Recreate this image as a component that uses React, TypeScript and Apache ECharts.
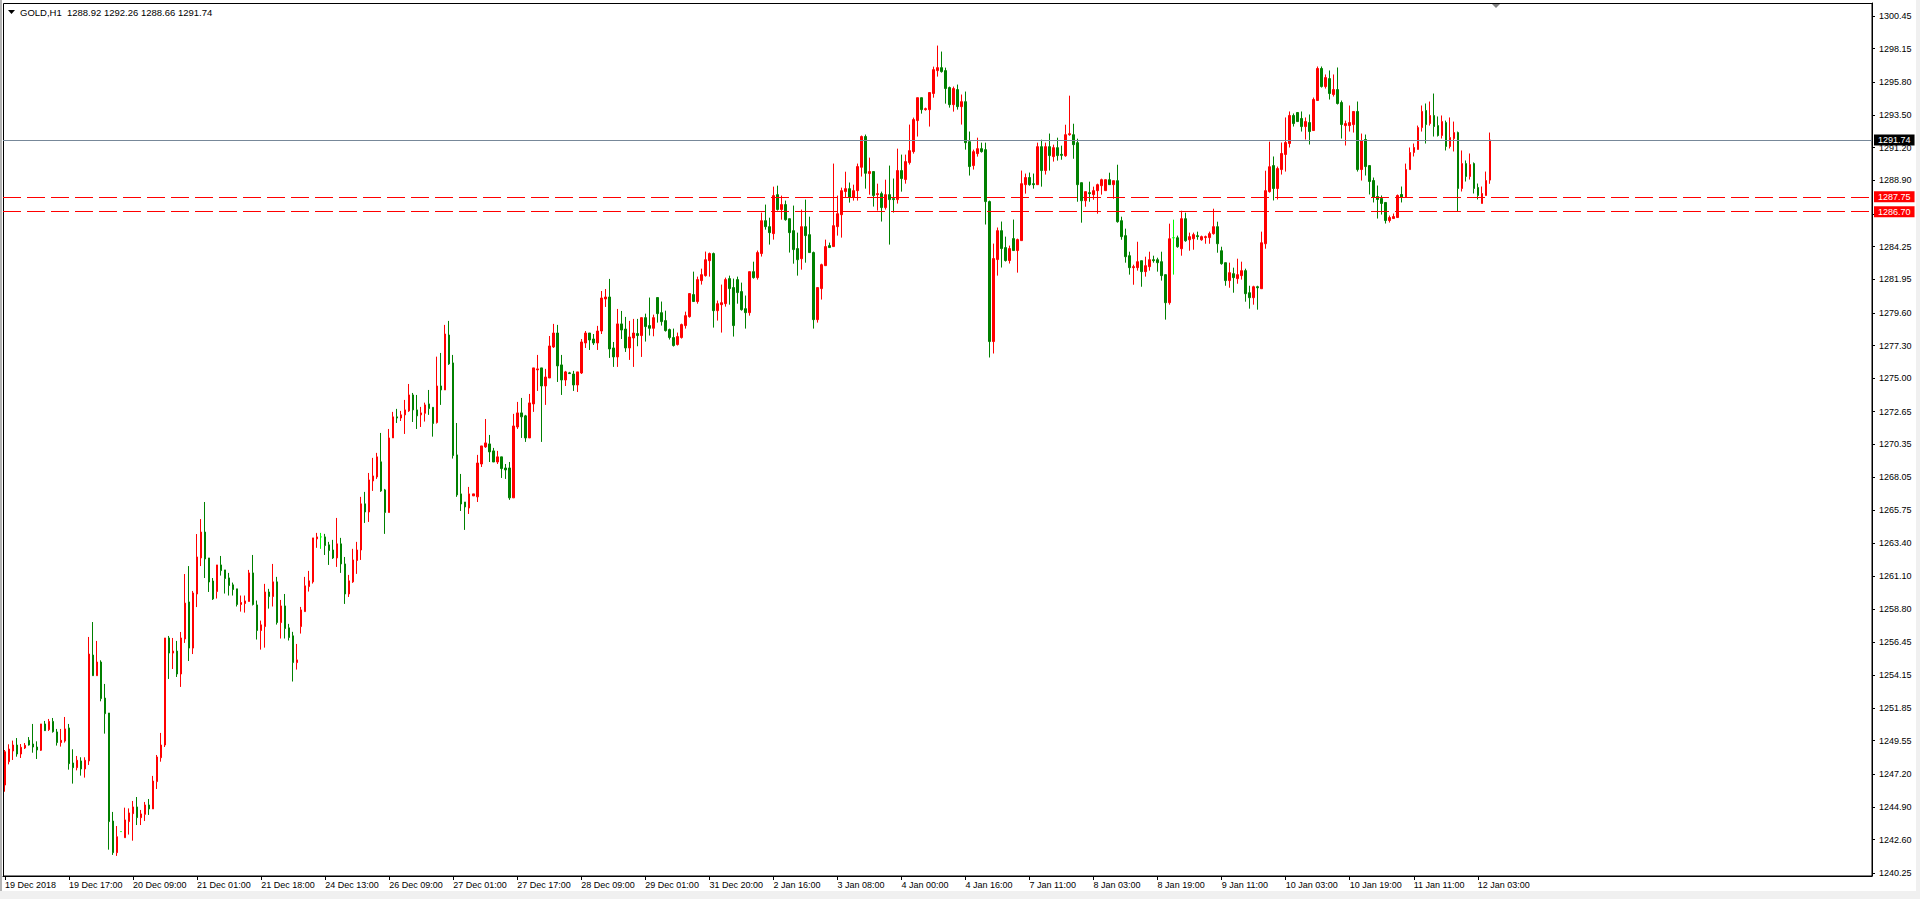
import { useEffect, useRef } from "react";
import * as echarts from "echarts";

const symbolName = "GOLD,H1";
const FONT = "'Liberation Sans', Arial, sans-serif";

// H1 bars as [open, close, low, high], oldest first
const bars: number[][] = [
  [1246.43, 1248.77, 1245.96, 1248.89], [1248.07, 1248.96, 1247.88, 1249.29], [1248.82, 1249.24, 1248.19, 1249.55], [1249.24, 1248.61, 1248.42, 1249.73],
  [1248.61, 1249.08, 1248.33, 1249.31], [1249.03, 1249.22, 1248.96, 1249.38], [1249.57, 1249.24, 1249.20, 1249.80], [1249.31, 1249.10, 1248.70, 1250.72],
  [1249.10, 1248.89, 1248.26, 1249.50], [1248.87, 1250.72, 1248.82, 1250.72], [1250.72, 1250.25, 1250.23, 1250.93], [1250.32, 1250.90, 1250.23, 1251.07],
  [1250.90, 1250.18, 1250.11, 1251.14], [1250.16, 1249.41, 1249.20, 1250.37], [1249.41, 1249.57, 1249.13, 1250.37], [1249.52, 1250.37, 1249.41, 1251.21],
  [1250.44, 1247.93, 1247.51, 1250.72], [1247.98, 1247.65, 1246.53, 1248.94], [1247.65, 1248.17, 1247.46, 1248.47], [1248.12, 1247.56, 1247.09, 1248.38],
  [1247.56, 1248.17, 1246.95, 1248.38], [1248.12, 1255.63, 1247.84, 1256.83], [1255.56, 1254.11, 1254.11, 1257.88], [1254.11, 1255.07, 1254.11, 1256.55],
  [1255.07, 1252.50, 1252.31, 1255.19], [1252.54, 1251.44, 1250.04, 1253.53], [1251.49, 1243.86, 1241.89, 1251.49], [1243.90, 1241.68, 1241.52, 1244.54],
  [1241.68, 1242.80, 1241.45, 1243.55], [1243.16, 1243.16, 1243.16, 1243.16], [1242.73, 1243.98, 1242.73, 1244.84], [1243.86, 1244.47, 1242.95, 1244.79],
  [1244.42, 1244.89, 1242.52, 1245.31], [1244.89, 1244.14, 1243.62, 1245.59], [1244.14, 1244.40, 1243.62, 1244.68], [1244.37, 1245.03, 1243.90, 1245.24],
  [1245.03, 1244.75, 1244.33, 1245.45], [1244.75, 1246.71, 1244.75, 1247.07], [1246.67, 1248.40, 1246.15, 1248.54], [1248.35, 1249.24, 1248.07, 1250.09],
  [1249.24, 1256.76, 1249.10, 1256.76], [1256.76, 1255.70, 1253.88, 1256.90], [1255.70, 1255.84, 1254.58, 1256.76], [1255.84, 1254.23, 1254.02, 1256.55],
  [1254.23, 1256.76, 1253.32, 1257.18], [1256.69, 1259.21, 1256.41, 1261.25], [1259.29, 1256.05, 1255.14, 1261.81], [1256.05, 1259.92, 1255.63, 1260.06],
  [1259.85, 1262.45, 1258.93, 1264.06], [1262.38, 1264.20, 1261.81, 1265.11], [1264.20, 1262.31, 1260.97, 1266.31], [1262.38, 1260.69, 1259.99, 1262.38],
  [1260.76, 1259.50, 1259.43, 1260.97], [1260.02, 1261.89, 1259.53, 1261.89], [1261.89, 1261.49, 1261.14, 1262.52], [1261.54, 1260.93, 1259.88, 1261.54],
  [1260.98, 1260.44, 1259.74, 1261.33], [1260.49, 1260.16, 1259.74, 1260.65], [1260.21, 1259.11, 1258.97, 1260.21], [1259.11, 1259.25, 1258.61, 1259.74],
  [1259.18, 1259.36, 1258.54, 1259.74], [1259.32, 1261.33, 1259.32, 1261.54], [1261.33, 1259.11, 1259.04, 1262.59], [1259.08, 1257.28, 1256.65, 1259.39],
  [1257.28, 1257.68, 1255.94, 1257.98], [1257.56, 1259.99, 1256.08, 1260.56], [1259.99, 1259.67, 1258.82, 1260.21], [1259.67, 1260.70, 1258.97, 1261.96],
  [1260.70, 1257.84, 1257.70, 1261.05], [1257.84, 1259.01, 1256.72, 1259.43], [1259.01, 1257.42, 1256.72, 1259.85], [1257.47, 1256.79, 1256.58, 1257.75],
  [1256.91, 1255.03, 1253.70, 1257.19], [1255.03, 1255.22, 1254.54, 1256.34], [1257.56, 1258.73, 1257.07, 1258.94], [1258.61, 1260.42, 1258.61, 1261.05],
  [1260.37, 1260.77, 1260.02, 1261.47], [1260.70, 1263.79, 1260.58, 1263.79], [1263.72, 1263.86, 1263.09, 1264.14], [1263.86, 1263.86, 1263.02, 1264.14],
  [1263.86, 1263.25, 1262.59, 1264.07], [1263.30, 1262.90, 1261.89, 1263.51], [1262.94, 1262.38, 1262.31, 1263.65], [1262.38, 1263.37, 1261.75, 1265.19],
  [1263.37, 1261.96, 1261.33, 1263.79], [1261.96, 1259.85, 1259.15, 1262.45], [1259.85, 1260.77, 1259.64, 1261.19], [1260.70, 1262.24, 1260.63, 1263.02],
  [1262.20, 1262.94, 1261.26, 1263.51], [1262.94, 1266.18, 1262.24, 1266.67], [1266.18, 1265.61, 1264.84, 1267.02], [1265.61, 1267.86, 1264.91, 1268.35],
  [1267.79, 1268.14, 1267.09, 1269.41], [1268.07, 1269.48, 1267.93, 1269.76], [1269.13, 1267.09, 1267.02, 1271.16], [1267.16, 1265.57, 1264.07, 1267.23],
  [1265.57, 1270.81, 1265.57, 1271.44], [1270.81, 1272.29, 1270.81, 1272.64], [1272.29, 1272.21, 1271.86, 1272.85], [1272.21, 1272.43, 1272.00, 1272.71],
  [1272.43, 1272.78, 1271.09, 1273.48], [1272.71, 1273.83, 1272.64, 1274.60], [1273.83, 1272.78, 1271.93, 1273.97], [1272.78, 1272.36, 1271.44, 1273.83],
  [1272.43, 1272.57, 1271.58, 1272.99], [1272.54, 1273.13, 1271.96, 1273.29], [1273.20, 1272.87, 1272.43, 1274.18], [1272.96, 1271.82, 1270.90, 1272.96],
  [1271.89, 1274.46, 1271.82, 1276.52], [1274.46, 1274.18, 1273.13, 1276.78], [1274.18, 1278.11, 1274.18, 1278.75], [1278.04, 1276.01, 1275.94, 1279.03],
  [1276.08, 1269.57, 1269.36, 1276.64], [1269.62, 1266.81, 1266.67, 1271.86], [1266.88, 1266.17, 1265.68, 1268.28], [1266.31, 1265.96, 1264.35, 1266.31],
  [1265.89, 1266.88, 1265.47, 1267.37], [1266.74, 1266.88, 1266.74, 1266.88], [1266.67, 1269.05, 1266.31, 1269.62], [1268.98, 1270.25, 1268.77, 1270.25],
  [1270.18, 1270.46, 1270.11, 1272.14], [1270.39, 1269.83, 1269.12, 1271.02], [1269.90, 1269.12, 1269.12, 1270.11], [1269.12, 1269.48, 1268.98, 1269.90],
  [1269.48, 1268.66, 1268.00, 1269.48], [1268.70, 1268.56, 1267.93, 1268.98], [1268.70, 1266.60, 1266.46, 1269.12], [1266.60, 1271.65, 1266.60, 1272.50],
  [1271.58, 1272.57, 1271.44, 1273.34], [1272.57, 1272.29, 1270.81, 1273.62], [1272.36, 1270.81, 1270.53, 1272.43], [1270.81, 1273.27, 1270.81, 1273.90],
  [1273.20, 1275.73, 1272.64, 1275.73], [1275.59, 1275.66, 1274.11, 1276.64], [1275.73, 1274.46, 1270.53, 1275.73], [1274.46, 1275.09, 1273.13, 1275.66],
  [1275.02, 1277.27, 1275.02, 1277.97], [1277.20, 1278.18, 1277.13, 1278.82], [1278.18, 1275.87, 1274.74, 1278.75], [1275.94, 1274.88, 1273.83, 1276.64],
  [1274.88, 1275.45, 1274.46, 1275.52], [1275.38, 1275.33, 1275.30, 1275.45], [1275.30, 1274.53, 1274.11, 1275.52], [1274.53, 1275.45, 1274.04, 1275.45],
  [1275.37, 1277.55, 1275.30, 1277.76], [1277.48, 1278.18, 1277.13, 1278.32], [1278.18, 1277.69, 1276.99, 1278.18], [1277.76, 1277.48, 1277.34, 1278.11],
  [1277.48, 1278.32, 1276.99, 1278.68], [1278.32, 1280.64, 1278.11, 1281.13], [1280.57, 1280.71, 1280.01, 1281.27], [1280.71, 1277.06, 1276.43, 1281.98],
  [1277.13, 1276.50, 1275.80, 1277.55], [1276.50, 1278.82, 1275.80, 1279.87], [1278.82, 1278.39, 1277.76, 1279.73], [1278.46, 1277.13, 1276.85, 1279.31],
  [1277.13, 1277.90, 1276.29, 1279.03], [1277.83, 1278.18, 1275.80, 1279.17], [1278.14, 1278.00, 1277.25, 1279.17], [1278.00, 1279.26, 1276.50, 1279.26],
  [1279.26, 1278.63, 1277.58, 1279.54], [1278.70, 1278.51, 1278.00, 1280.67], [1278.51, 1279.26, 1277.95, 1279.47], [1280.67, 1279.54, 1278.91, 1280.67],
  [1279.61, 1278.98, 1278.70, 1280.39], [1279.05, 1278.35, 1278.28, 1279.75], [1278.42, 1277.86, 1277.72, 1278.49], [1277.86, 1277.30, 1277.23, 1278.49],
  [1277.37, 1277.93, 1277.30, 1278.21], [1277.86, 1278.77, 1277.79, 1278.84], [1278.70, 1279.40, 1278.49, 1279.68], [1279.33, 1280.95, 1279.26, 1280.95],
  [1280.88, 1280.39, 1280.39, 1282.49], [1280.39, 1281.93, 1280.24, 1282.14], [1281.86, 1282.28, 1281.58, 1282.70], [1282.21, 1283.33, 1282.14, 1283.90],
  [1283.26, 1283.76, 1282.14, 1283.83], [1283.76, 1279.75, 1278.56, 1283.83], [1279.75, 1280.24, 1279.05, 1280.46], [1280.17, 1280.31, 1278.21, 1281.58],
  [1280.24, 1281.93, 1280.03, 1282.07], [1282.00, 1281.30, 1280.17, 1282.21], [1281.37, 1278.70, 1277.93, 1282.00], [1281.93, 1281.02, 1280.24, 1282.14],
  [1281.09, 1279.82, 1279.75, 1281.72], [1279.89, 1279.61, 1278.49, 1280.81], [1279.61, 1282.49, 1279.40, 1282.49], [1282.49, 1282.07, 1282.00, 1283.19],
  [1282.07, 1283.83, 1281.93, 1283.97], [1283.76, 1286.07, 1283.55, 1286.64], [1286.07, 1285.65, 1285.44, 1287.20], [1285.65, 1285.23, 1284.39, 1286.28],
  [1285.16, 1287.83, 1284.74, 1288.46], [1287.90, 1286.85, 1286.78, 1288.53], [1286.85, 1287.20, 1286.14, 1287.83], [1287.20, 1286.14, 1286.07, 1287.48],
  [1286.21, 1285.23, 1283.83, 1286.21], [1285.37, 1284.04, 1283.05, 1287.13], [1284.11, 1283.33, 1282.21, 1285.23], [1283.40, 1285.65, 1282.63, 1286.85],
  [1285.65, 1285.02, 1283.12, 1287.55], [1285.09, 1283.83, 1283.83, 1286.35], [1283.83, 1279.12, 1278.49, 1283.90], [1279.12, 1281.37, 1278.91, 1281.37],
  [1281.30, 1282.98, 1280.53, 1283.05], [1282.91, 1284.25, 1282.91, 1284.74], [1284.32, 1284.18, 1284.18, 1284.53], [1284.25, 1285.72, 1284.25, 1290.08],
  [1285.65, 1286.56, 1285.02, 1287.83], [1286.49, 1288.18, 1284.88, 1288.39], [1288.12, 1288.32, 1287.70, 1289.51], [1288.32, 1287.72, 1287.34, 1288.75],
  [1287.72, 1288.18, 1287.48, 1288.60], [1288.18, 1289.87, 1287.48, 1290.08], [1289.82, 1291.98, 1289.17, 1292.05], [1291.98, 1289.40, 1288.32, 1292.12],
  [1289.38, 1289.52, 1287.90, 1290.50], [1289.52, 1287.83, 1287.06, 1289.52], [1287.90, 1287.97, 1286.78, 1288.67], [1287.97, 1286.99, 1286.01, 1288.11],
  [1286.99, 1287.90, 1286.85, 1288.95], [1287.90, 1287.55, 1284.39, 1289.94], [1287.62, 1287.55, 1286.64, 1289.03], [1287.55, 1289.59, 1287.27, 1291.13],
  [1289.59, 1289.03, 1288.11, 1290.71], [1288.96, 1290.22, 1288.67, 1290.71], [1290.15, 1290.99, 1290.01, 1292.82], [1290.92, 1293.17, 1290.78, 1293.31],
  [1293.10, 1294.71, 1291.98, 1294.71], [1294.71, 1293.87, 1293.59, 1294.71], [1293.87, 1293.94, 1293.80, 1294.01], [1293.87, 1295.07, 1292.68, 1295.07],
  [1295.00, 1296.68, 1294.71, 1296.89], [1296.61, 1296.82, 1296.19, 1298.37], [1296.82, 1296.54, 1296.47, 1297.95], [1296.61, 1295.35, 1294.29, 1296.82],
  [1295.42, 1294.22, 1294.01, 1295.49], [1294.22, 1295.35, 1293.73, 1295.49], [1295.28, 1294.08, 1293.87, 1295.63], [1294.08, 1294.43, 1292.82, 1294.93],
  [1294.43, 1291.55, 1291.06, 1295.14], [1291.62, 1289.87, 1289.24, 1292.33], [1289.94, 1290.92, 1289.66, 1291.06], [1290.78, 1291.13, 1290.57, 1291.90],
  [1291.13, 1290.92, 1290.85, 1291.55], [1291.06, 1287.41, 1285.80, 1291.55], [1287.41, 1277.58, 1276.46, 1287.48], [1277.58, 1283.41, 1276.74, 1284.46],
  [1283.34, 1285.37, 1282.21, 1285.59], [1285.37, 1284.11, 1282.78, 1286.01], [1284.18, 1283.27, 1283.20, 1284.95], [1283.27, 1284.11, 1283.06, 1284.32],
  [1284.81, 1283.97, 1283.97, 1286.15], [1283.97, 1284.74, 1282.42, 1284.81], [1284.67, 1288.67, 1284.67, 1289.59], [1288.60, 1289.10, 1287.97, 1289.38],
  [1289.10, 1288.60, 1288.53, 1289.45], [1288.67, 1288.60, 1288.32, 1289.38], [1288.60, 1291.27, 1288.60, 1291.55], [1291.27, 1289.59, 1288.46, 1291.76],
  [1289.59, 1291.27, 1289.31, 1291.55], [1291.27, 1290.64, 1289.59, 1292.19], [1290.57, 1291.20, 1290.22, 1291.41], [1291.20, 1290.64, 1290.29, 1291.90],
  [1290.73, 1290.66, 1290.35, 1291.34], [1290.63, 1292.11, 1290.56, 1292.81], [1292.11, 1292.18, 1292.04, 1294.85], [1292.11, 1291.41, 1290.42, 1292.88],
  [1291.55, 1288.60, 1287.40, 1291.83], [1288.74, 1287.47, 1285.93, 1288.74], [1287.47, 1288.11, 1287.05, 1288.11], [1288.04, 1287.97, 1287.40, 1288.81],
  [1287.90, 1288.18, 1287.54, 1288.46], [1288.18, 1288.60, 1286.56, 1288.67], [1288.53, 1288.95, 1287.90, 1289.02], [1288.18, 1288.95, 1288.18, 1288.95],
  [1288.95, 1288.60, 1288.60, 1289.44], [1288.60, 1288.88, 1287.61, 1288.88], [1288.88, 1286.00, 1285.93, 1290.00], [1286.07, 1284.95, 1284.73, 1286.35],
  [1285.02, 1283.54, 1283.12, 1285.51], [1283.61, 1282.77, 1282.28, 1283.89], [1282.77, 1282.84, 1281.57, 1282.98], [1282.77, 1283.19, 1282.56, 1284.59],
  [1283.26, 1282.49, 1281.43, 1283.26], [1282.49, 1282.91, 1282.14, 1283.54], [1282.84, 1283.33, 1282.56, 1283.89], [1283.33, 1283.26, 1283.12, 1283.61],
  [1283.33, 1283.12, 1282.49, 1283.47], [1283.19, 1282.21, 1281.86, 1283.89], [1282.28, 1280.31, 1279.12, 1282.28], [1280.31, 1284.80, 1280.17, 1285.86],
  [1284.87, 1284.87, 1282.28, 1286.14], [1284.87, 1284.24, 1284.17, 1285.02], [1284.10, 1286.21, 1283.61, 1286.77], [1286.21, 1284.66, 1284.59, 1286.63],
  [1284.73, 1284.95, 1283.96, 1285.23], [1284.80, 1285.09, 1284.03, 1285.23], [1285.02, 1284.95, 1284.73, 1285.30], [1284.73, 1284.95, 1284.66, 1285.02],
  [1284.88, 1284.95, 1284.45, 1285.02], [1284.88, 1285.16, 1284.45, 1285.30], [1285.16, 1285.65, 1285.09, 1286.91], [1285.65, 1284.45, 1283.82, 1286.00],
  [1283.96, 1283.05, 1282.98, 1284.24], [1283.12, 1281.86, 1281.50, 1283.12], [1281.86, 1282.42, 1281.36, 1283.12], [1282.35, 1282.07, 1281.01, 1282.77],
  [1282.00, 1282.28, 1281.64, 1283.40], [1282.21, 1282.56, 1281.93, 1283.19], [1282.56, 1280.94, 1280.38, 1282.70], [1281.01, 1280.66, 1279.89, 1281.50],
  [1280.66, 1281.43, 1280.17, 1281.50], [1281.43, 1281.36, 1279.82, 1281.50], [1281.29, 1284.52, 1281.29, 1285.30], [1284.45, 1288.18, 1284.10, 1289.58],
  [1288.11, 1289.86, 1288.04, 1291.62], [1289.94, 1288.33, 1287.49, 1290.58], [1288.33, 1289.73, 1287.56, 1289.87], [1289.66, 1290.79, 1289.31, 1291.56],
  [1290.72, 1291.56, 1289.52, 1293.32], [1291.49, 1293.46, 1291.21, 1293.74], [1293.46, 1292.89, 1292.68, 1293.60], [1293.67, 1293.03, 1293.03, 1293.67],
  [1293.25, 1292.68, 1292.33, 1293.74], [1292.68, 1293.03, 1291.77, 1293.32], [1292.96, 1292.33, 1291.42, 1293.53], [1292.40, 1294.58, 1292.40, 1294.72],
  [1294.51, 1296.76, 1294.51, 1296.90], [1296.76, 1295.49, 1295.42, 1296.90], [1295.49, 1296.12, 1295.35, 1296.34], [1296.05, 1295.00, 1294.58, 1296.62],
  [1294.93, 1295.28, 1294.79, 1296.34], [1295.28, 1294.30, 1294.23, 1296.83], [1294.37, 1292.82, 1291.84, 1294.51], [1292.75, 1292.89, 1291.35, 1293.10],
  [1292.75, 1292.96, 1292.33, 1294.16], [1292.82, 1293.74, 1292.26, 1293.74], [1293.74, 1289.66, 1289.52, 1294.44], [1289.66, 1291.70, 1288.89, 1292.19],
  [1291.77, 1289.87, 1289.24, 1292.12], [1289.94, 1288.82, 1287.91, 1289.94], [1288.89, 1287.70, 1287.35, 1289.10], [1287.77, 1287.56, 1286.22, 1288.54],
  [1287.63, 1287.28, 1286.50, 1287.84], [1287.35, 1286.08, 1285.87, 1287.35], [1286.08, 1286.29, 1285.94, 1286.43], [1286.22, 1286.36, 1286.22, 1286.57],
  [1286.29, 1287.84, 1286.29, 1287.91], [1287.91, 1287.70, 1287.35, 1288.47], [1287.70, 1289.66, 1287.70, 1290.08], [1289.66, 1290.86, 1289.66, 1291.21],
  [1290.86, 1291.21, 1290.58, 1291.49], [1291.07, 1292.61, 1291.07, 1292.75], [1292.61, 1293.74, 1292.33, 1294.16], [1293.81, 1292.82, 1291.49, 1294.30],
  [1292.89, 1293.46, 1292.75, 1294.44], [1293.46, 1292.68, 1291.98, 1295.00], [1292.75, 1292.05, 1291.98, 1293.39], [1292.05, 1293.03, 1291.84, 1293.46],
  [1292.96, 1291.28, 1291.00, 1293.10], [1291.28, 1291.91, 1291.14, 1293.32], [1291.84, 1292.26, 1290.93, 1293.03], [1292.26, 1288.33, 1286.71, 1292.33],
  [1288.33, 1290.08, 1288.12, 1291.00], [1290.08, 1289.17, 1288.82, 1290.30], [1289.17, 1290.01, 1288.96, 1290.79], [1290.08, 1288.33, 1287.98, 1290.16],
  [1288.40, 1287.84, 1287.56, 1288.68], [1287.28, 1287.98, 1287.28, 1288.47], [1287.84, 1288.89, 1287.84, 1289.52], [1288.92, 1291.74, 1288.66, 1292.26],
];

// Time labels shown every 16 bars
const timeLabels = [
  "19 Dec 2018", "19 Dec 17:00", "20 Dec 09:00", "21 Dec 01:00", "21 Dec 18:00", "24 Dec 13:00",
  "26 Dec 09:00", "27 Dec 01:00", "27 Dec 17:00", "28 Dec 09:00", "29 Dec 01:00", "31 Dec 20:00",
  "2 Jan 16:00", "3 Jan 08:00", "4 Jan 00:00", "4 Jan 16:00", "7 Jan 11:00", "8 Jan 03:00",
  "8 Jan 19:00", "9 Jan 11:00", "10 Jan 03:00", "10 Jan 19:00", "11 Jan 11:00", "12 Jan 03:00",
];
const labelStep = 16;
const totalSlots = 467; // bars + empty chart shift area

// Price scale labels
const priceLabels = [
  "1300.45", "1298.15", "1295.80", "1293.50", "1291.20", "1288.90", "1286.55", "1284.25", "1281.95",
  "1279.60", "1277.30", "1275.00", "1272.65", "1270.35", "1268.05", "1265.75", "1263.40", "1261.10",
  "1258.80", "1256.45", "1254.15", "1251.85", "1249.55", "1247.20", "1244.90", "1242.60", "1240.25",
];
const priceMin = 1240.04;
const priceMax = 1301.36;

const bidLevel = 1291.74;
const levels = [1287.75, 1286.7];

export default function App() {
  const ref = useRef<HTMLDivElement>(null);
  useEffect(() => {
    document.body.style.margin = "0";
    if (!ref.current) return;
    const chart = echarts.init(ref.current, undefined, { renderer: "svg" });
    const cats = Array.from({ length: totalSlots }, (_, i) => "b" + i);
    const showLabel = (idx: number) => idx % labelStep === 0 && idx / labelStep < timeLabels.length;
    const last = bars[bars.length - 1];
    const header = `${symbolName}\u00a0 ${last[0].toFixed(2)} ${last[3].toFixed(2)} ${last[2].toFixed(2)} ${last[1].toFixed(2)}`;
    const data = bars.map((b) =>
      b[0] === b[1]
        ? { value: b, itemStyle: { color: "#00ff00", color0: "#00ff00", borderColor: "#00ff00", borderColor0: "#00ff00" } }
        : b
    );
    chart.setOption({
      animation: false,
      backgroundColor: "#ffffff",
      grid: { left: 3, top: 3, right: 48, bottom: 23, containLabel: false },
      xAxis: {
        type: "category",
        data: cats,
        boundaryGap: true,
        axisLine: { show: true, lineStyle: { color: "#000", width: 1 } },
        axisTick: { show: true, interval: (i: number) => showLabel(i), alignWithLabel: true, length: 4, lineStyle: { color: "#000" } },
        axisLabel: {
          show: true,
          interval: (i: number) => showLabel(i),
          formatter: (_v: string, i: number) => timeLabels[i / labelStep] ?? "",
          align: "left",
          margin: 4,
          fontSize: 9,
          color: "#000",
          fontFamily: FONT,
          hideOverlap: false,
        },
        splitLine: { show: false },
      },
      yAxis: {
        type: "value",
        position: "right",
        min: priceMin,
        max: priceMax,
        scale: true,
        axisLine: { show: true, lineStyle: { color: "#000", width: 1 } },
        axisTick: { show: true, length: 3, customValues: priceLabels.map(Number), lineStyle: { color: "#000" } },
        axisLabel: {
          show: true,
          customValues: priceLabels.map(Number),
          formatter: (v: number) => v.toFixed(2),
          margin: 7,
          fontSize: 9,
          color: "#000",
          fontFamily: FONT,
          showMinLabel: true,
          showMaxLabel: true,
        },
        splitLine: { show: false },
      },
      graphic: [
        { type: "rect", silent: true, z: -1, shape: { x: 3.5, y: 3.5, width: 1868.5, height: 872.5 }, style: { fill: "none", stroke: "#000", lineWidth: 1 } },
        { type: "rect", silent: true, shape: { x: 0, y: 0, width: 2, height: 899 }, style: { fill: "#b4b4b4" } },
        { type: "rect", silent: true, shape: { x: 0, y: 891, width: 1920, height: 8 }, style: { fill: "#f0f0f0" } },
        { type: "rect", silent: true, shape: { x: 1916, y: 0, width: 4, height: 899 }, style: { fill: "#f0f0f0" } },
        { type: "polygon", silent: true, shape: { points: [[1492, 4], [1500, 4], [1496, 8]] }, style: { fill: "#808080" } },
        { type: "polygon", silent: true, shape: { points: [[8, 10], [15, 10], [11.5, 14]] }, style: { fill: "#000" } },
        {
          type: "text",
          silent: true,
          x: 20,
          y: 12,
          style: { text: header, fontSize: 9.5, fontFamily: FONT, fill: "#000", verticalAlign: "middle", align: "left" },
        },
      ],
      series: [
        {
          type: "candlestick",
          data,
          barWidth: 2,
          large: false,
          itemStyle: {
            color: "#ff0000",
            color0: "#008000",
            borderColor: "#ff0000",
            borderColor0: "#008000",
            borderColorDoji: "#00ff00",
            borderWidth: 1,
          },
          markLine: {
            silent: true,
            symbol: ["none", "none"],
            animation: false,
            label: {
              show: true,
              position: "end",
              distance: 2,
              formatter: (p: any) => Number(p.value).toFixed(2),
              fontSize: 9,
              fontFamily: FONT,
              color: "#fff",
              padding: [1, 4, 1, 4],
            },
            data: [
              {
                yAxis: bidLevel,
                lineStyle: { color: "#778899", width: 1, type: "solid" },
                label: { backgroundColor: "#000" },
              },
              ...levels.map((v) => ({
                yAxis: v,
                lineStyle: { color: "#ff0000", width: 1, type: [18, 6] },
                label: { backgroundColor: "#ff0000" },
              })),
            ],
          },
        },
      ],
    });
    return () => chart.dispose();
  }, []);
  return <div ref={ref} style={{ position: "fixed", left: 0, top: 0, width: 1920, height: 899 }} />;
}
